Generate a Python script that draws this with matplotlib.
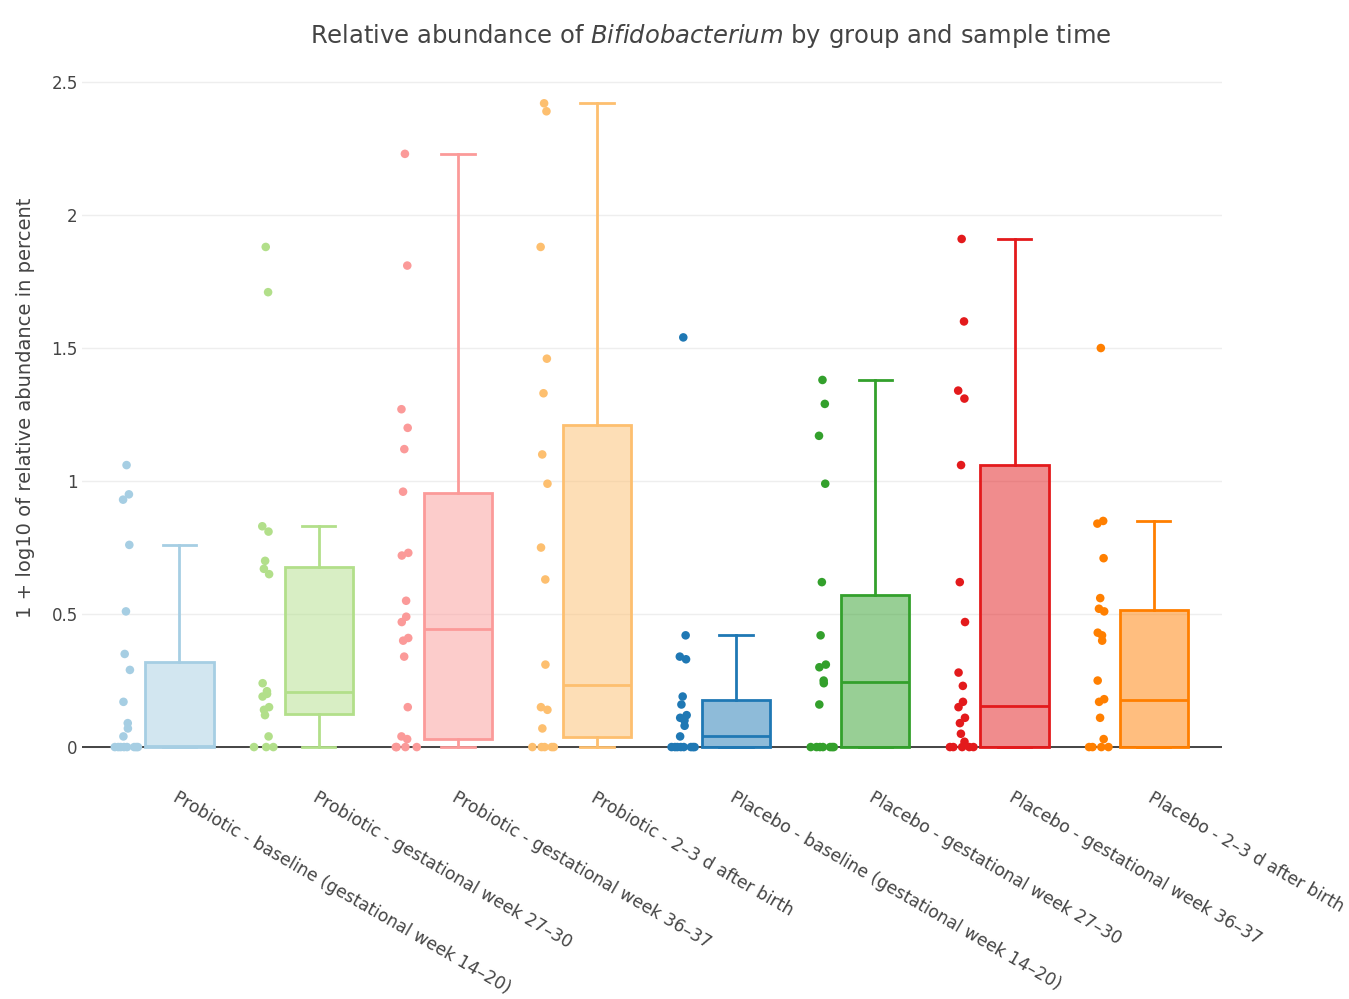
import numpy as np
import matplotlib
matplotlib.use("Agg")
import matplotlib.pyplot as plt

plt.rcParams['font.family'] = ['DejaVu Sans']
plt.rcParams['mathtext.fontset'] = 'dejavusans'

groups = [
    "Probiotic - baseline (gestational week 14\u201320)",
    "Probiotic - gestational week 27\u201330",
    "Probiotic - gestational week 36\u201337",
    "Probiotic - 2\u20133 d after birth",
    "Placebo - baseline (gestational week 14\u201320)",
    "Placebo - gestational week 27\u201330",
    "Placebo - gestational week 36\u201337",
    "Placebo - 2\u20133 d after birth",
]

# Paired palette: light shades for probiotic, dark for placebo
colors = ["#a6cee3", "#b2df8a", "#fb9a99", "#fdbf6f",
          "#1f78b4", "#33a02c", "#e31a1c", "#ff7f00"]

# individual samples (1 + log10 of relative abundance)
prob_base = [1.06, 0.95, 0.93, 0.76, 0.51, 0.35, 0.29, 0.17, 0.09, 0.07, 0.04,
             0, 0, 0, 0, 0, 0, 0, 0]
prob_w27 = [1.88, 1.71, 0.83, 0.81, 0.70, 0.67, 0.65, 0.24, 0.21, 0.20, 0.19,
            0.15, 0.14, 0.12, 0.04, 0, 0, 0]
prob_w36 = [2.23, 1.81, 1.27, 1.20, 1.12, 0.96, 0.73, 0.72, 0.55, 0.49, 0.47,
            0.41, 0.40, 0.34, 0.15, 0.04, 0.03, 0, 0, 0, 0]
prob_birth = [2.42, 2.39, 1.88, 1.46, 1.33, 1.10, 0.99, 0.75, 0.63, 0.31, 0.15,
              0.14, 0.07, 0, 0, 0, 0, 0]
plac_base = [1.54, 0.42, 0.34, 0.33, 0.19, 0.16, 0.12, 0.11, 0.10, 0.08, 0.04,
             0, 0, 0, 0, 0, 0, 0, 0]
plac_w27 = [1.38, 1.29, 1.17, 0.99, 0.62, 0.42, 0.31, 0.30, 0.25, 0.24, 0.16,
            0, 0, 0, 0, 0, 0, 0]
plac_w36 = [1.91, 1.60, 1.34, 1.31, 1.06, 0.62, 0.47, 0.28, 0.23, 0.17, 0.15,
            0.11, 0.09, 0.05, 0.02, 0, 0, 0, 0, 0]
plac_birth = [1.50, 0.85, 0.84, 0.71, 0.56, 0.52, 0.51, 0.43, 0.42, 0.40, 0.25,
              0.18, 0.17, 0.11, 0.03, 0, 0, 0, 0]
samples = [prob_base, prob_w27, prob_w36, prob_birth,
           plac_base, plac_w27, plac_w36, plac_birth]

# box summary per group
q1 = [0.0, 0.125, 0.03, 0.037, 0.0, 0.0, 0.0, 0.0]
med = [0.005, 0.207, 0.443, 0.233, 0.04, 0.245, 0.156, 0.177]
q3 = [0.32, 0.677, 0.956, 1.21, 0.176, 0.572, 1.06, 0.517]
whislo = [0.0, 0.0, 0.0, 0.0, 0.0, 0.0, 0.0, 0.0]
whishi = [0.76, 0.83, 2.23, 2.42, 0.42, 1.38, 1.91, 0.85]

fig = plt.figure(figsize=(13.49, 9.99), dpi=100)
ax = fig.add_axes([0.0608, 0.2442, 0.845, 0.695])

pos = np.arange(len(groups))
stats = [dict(q1=a, med=m, q3=b, whislo=lo, whishi=hi, fliers=[])
         for a, m, b, lo, hi in zip(q1, med, q3, whislo, whishi)]
bp = ax.bxp(stats, positions=pos, widths=0.49, patch_artist=True,
            showfliers=False, capwidths=0.24)

for i, c in enumerate(colors):
    lw = 2.0
    bp['boxes'][i].set(facecolor=matplotlib.colors.to_rgba(c, 0.5),
                       edgecolor=c, linewidth=lw, zorder=3)
    bp['medians'][i].set(color=c, linewidth=lw, zorder=4)
    for ln in bp['whiskers'][2 * i:2 * i + 2] + bp['caps'][2 * i:2 * i + 2]:
        ln.set(color=c, linewidth=lw, zorder=3)

    vals = np.array(samples[i], dtype=float)
    k = np.arange(len(vals))
    spread = np.where(vals == 0, 0.085, 0.025)
    xs = pos[i] - 0.38 + spread * np.sin(k * 2.4)
    ax.scatter(xs, vals, s=38, color=c, edgecolors='none', zorder=5,
               clip_on=False)

ax.set_xlim(-0.70, 7.49)
ax.set_ylim(-0.03, 2.58)
ax.set_yticks([0, 0.5, 1, 1.5, 2, 2.5])
ax.set_yticklabels(["0", "0.5", "1", "1.5", "2", "2.5"])
ax.grid(axis='y', color='#eeeeee', linewidth=1.0, zorder=0)
ax.axhline(0, color='#444444', linewidth=1.4, zorder=2)
ax.set_axisbelow(True)
for s in ax.spines.values():
    s.set_visible(False)
ax.tick_params(axis='both', length=0, colors='#444444', labelsize=12)
ax.tick_params(axis='y', pad=3)

ax.set_xticks(pos)
ax.set_xticklabels(groups, rotation=-30, ha='left', va='top',
                   rotation_mode='anchor', fontsize=12.3)
ax.tick_params(axis='x', pad=24)

ax.set_ylabel("1 + log10 of relative abundance in percent", fontsize=14,
              color='#444444', labelpad=12)
fig.text(0.527, 0.978,
         r"Relative abundance of $\it{Bifidobacterium}$ by group and sample time",
         ha='center', va='top', fontsize=17.5, color='#444444')

fig.savefig("out.png", dpi=100)
